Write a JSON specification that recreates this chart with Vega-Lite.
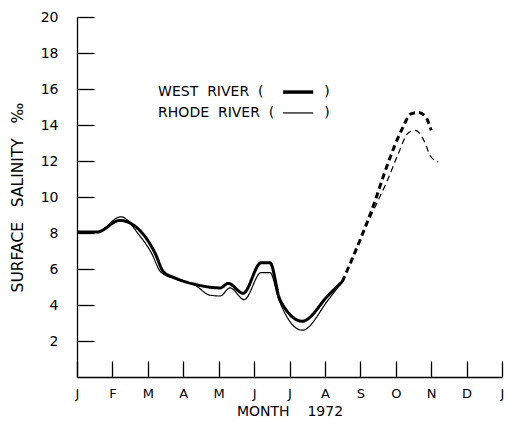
{
  "$schema": "https://vega.github.io/schema/vega-lite/v6.json",
  "autosize": {"type": "none"},
  "padding": {"left": 77, "top": 17, "right": 5, "bottom": 52},
  "width": 425,
  "height": 360,
  "background": "white",
  "config": {
    "view": {"stroke": null},
    "font": "DejaVu Sans",
    "axis": {"grid": false, "domainColor": "black", "tickColor": "black", "labelColor": "black", "titleColor": "black", "domainWidth": 1.3, "tickWidth": 1.3, "labelFont": "DejaVu Sans", "titleFont": "DejaVu Sans", "titleFontWeight": "normal", "labelOverlap": false}
  },
  "datasets": {
    "sal": [
      {"river": "West", "seg": "obs", "m": 0, "s": 8.05},
      {"river": "West", "seg": "obs", "m": 0.56, "s": 8.05},
      {"river": "West", "seg": "obs", "m": 1.21, "s": 8.7},
      {"river": "West", "seg": "obs", "m": 1.84, "s": 8.0},
      {"river": "West", "seg": "obs", "m": 2.2, "s": 6.9},
      {"river": "West", "seg": "obs", "m": 2.44, "s": 5.85},
      {"river": "West", "seg": "obs", "m": 2.77, "s": 5.5},
      {"river": "West", "seg": "obs", "m": 3.33, "s": 5.15},
      {"river": "West", "seg": "obs", "m": 4.04, "s": 4.95},
      {"river": "West", "seg": "obs", "m": 4.27, "s": 5.2},
      {"river": "West", "seg": "obs", "m": 4.69, "s": 4.65},
      {"river": "West", "seg": "obs", "m": 5.2, "s": 6.35},
      {"river": "West", "seg": "obs", "m": 5.45, "s": 6.35},
      {"river": "West", "seg": "obs", "m": 5.73, "s": 4.3},
      {"river": "West", "seg": "obs", "m": 6.36, "s": 3.1},
      {"river": "West", "seg": "obs", "m": 7.1, "s": 4.55},
      {"river": "West", "seg": "obs", "m": 7.49, "s": 5.3},
      {"river": "West", "seg": "est", "m": 7.49, "s": 5.3},
      {"river": "West", "seg": "est", "m": 7.99, "s": 7.6},
      {"river": "West", "seg": "est", "m": 8.42, "s": 9.8},
      {"river": "West", "seg": "est", "m": 8.64, "s": 11.1},
      {"river": "West", "seg": "est", "m": 9.21, "s": 13.9},
      {"river": "West", "seg": "est", "m": 9.41, "s": 14.6},
      {"river": "West", "seg": "est", "m": 9.63, "s": 14.7},
      {"river": "West", "seg": "est", "m": 9.83, "s": 14.5},
      {"river": "West", "seg": "est", "m": 10.0, "s": 13.7},
      {"river": "Rhode", "seg": "obs", "m": 0, "s": 8.05},
      {"river": "Rhode", "seg": "obs", "m": 0.56, "s": 8.05},
      {"river": "Rhode", "seg": "obs", "m": 1.24, "s": 8.9},
      {"river": "Rhode", "seg": "obs", "m": 1.75, "s": 7.9},
      {"river": "Rhode", "seg": "obs", "m": 2.1, "s": 6.9},
      {"river": "Rhode", "seg": "obs", "m": 2.36, "s": 5.85},
      {"river": "Rhode", "seg": "obs", "m": 2.77, "s": 5.45},
      {"river": "Rhode", "seg": "obs", "m": 3.33, "s": 5.1},
      {"river": "Rhode", "seg": "obs", "m": 3.75, "s": 4.55},
      {"river": "Rhode", "seg": "obs", "m": 4.04, "s": 4.5},
      {"river": "Rhode", "seg": "obs", "m": 4.32, "s": 4.95},
      {"river": "Rhode", "seg": "obs", "m": 4.72, "s": 4.3},
      {"river": "Rhode", "seg": "obs", "m": 5.2, "s": 5.8},
      {"river": "Rhode", "seg": "obs", "m": 5.45, "s": 5.8},
      {"river": "Rhode", "seg": "obs", "m": 5.7, "s": 4.3},
      {"river": "Rhode", "seg": "obs", "m": 6.36, "s": 2.6},
      {"river": "Rhode", "seg": "obs", "m": 7.1, "s": 4.3},
      {"river": "Rhode", "seg": "obs", "m": 7.49, "s": 5.3},
      {"river": "Rhode", "seg": "est", "m": 7.49, "s": 5.3},
      {"river": "Rhode", "seg": "est", "m": 7.94, "s": 7.4},
      {"river": "Rhode", "seg": "est", "m": 8.5, "s": 9.8},
      {"river": "Rhode", "seg": "est", "m": 8.76, "s": 10.9},
      {"river": "Rhode", "seg": "est", "m": 9.07, "s": 12.4},
      {"river": "Rhode", "seg": "est", "m": 9.35, "s": 13.55},
      {"river": "Rhode", "seg": "est", "m": 9.55, "s": 13.7},
      {"river": "Rhode", "seg": "est", "m": 9.83, "s": 13.0},
      {"river": "Rhode", "seg": "est", "m": 9.97, "s": 12.3},
      {"river": "Rhode", "seg": "est", "m": 10.2, "s": 11.95}
    ],
    "one": [{}]
  },
  "layer": [
    {
      "data": {"name": "sal"},
      "transform": [{"filter": "datum.river == 'Rhode'"}],
      "mark": {"type": "line", "interpolate": "monotone", "color": "black", "strokeWidth": 1.2},
      "encoding": {
        "x": {"field": "m", "type": "quantitative", "scale": {"domain": [0, 12], "nice": false},
          "axis": {"values": [0,1,2,3,4,5,6,7,8,9,10,11,12], "tickCount": 30, "labelOverlap": false, "labelExpr": "['J','F','M','A','M','J','J','A','S','O','N','D','J'][datum.value]", "tickSize": -16, "labelPadding": 26, "labelFontSize": 13, "labelFlush": false, "title": "MONTH\u00a0\u00a0\u00a0\u00a01972", "titleFontSize": 14, "titlePadding": 4}},
        "y": {"field": "s", "type": "quantitative", "scale": {"domain": [0, 20], "nice": false},
          "axis": {"values": [2,4,6,8,10,12,14,16,18,20], "tickCount": 30, "format": "d", "labelOverlap": false, "tickSize": -17, "labelPadding": 36, "labelFontSize": 14, "labelFlush": false, "title": "SURFACE\u00a0\u00a0\u00a0SALINITY\u00a0\u00a0\u00a0‰", "titleFontSize": 15.5, "titlePadding": 15}},
        "strokeDash": {"field": "seg", "type": "nominal", "scale": {"domain": ["obs", "est"], "range": [[1, 0], [6, 4]]}, "legend": null}
      }
    },
    {
      "data": {"name": "sal"},
      "transform": [{"filter": "datum.river == 'West'"}],
      "mark": {"type": "line", "interpolate": "monotone", "color": "black", "strokeWidth": 3},
      "encoding": {
        "x": {"field": "m", "type": "quantitative"},
        "y": {"field": "s", "type": "quantitative"},
        "strokeDash": {"field": "seg", "type": "nominal", "scale": {"domain": ["obs", "est"], "range": [[1, 0], [9, 4]]}, "legend": null}
      }
    },
    {
      "data": {"name": "one"},
      "mark": {"type": "text", "align": "left", "baseline": "middle", "fontSize": 14, "color": "black"},
      "encoding": {"x": {"datum": 2.29}, "y": {"datum": 15.83}, "text": {"value": "WEST\u00a0\u00a0RIVER\u00a0\u00a0("}}
    },
    {
      "data": {"name": "one"},
      "mark": {"type": "text", "align": "left", "baseline": "middle", "fontSize": 14, "color": "black"},
      "encoding": {"x": {"datum": 2.29}, "y": {"datum": 14.67}, "text": {"value": "RHODE\u00a0\u00a0RIVER\u00a0\u00a0("}}
    },
    {
      "data": {"name": "one"},
      "mark": {"type": "text", "align": "center", "baseline": "middle", "fontSize": 14, "color": "black"},
      "encoding": {"x": {"datum": 7.06}, "y": {"datum": 15.83}, "text": {"value": ")"}}
    },
    {
      "data": {"name": "one"},
      "mark": {"type": "text", "align": "center", "baseline": "middle", "fontSize": 14, "color": "black"},
      "encoding": {"x": {"datum": 7.06}, "y": {"datum": 14.67}, "text": {"value": ")"}}
    },
    {
      "data": {"name": "one"},
      "mark": {"type": "rule", "color": "black", "strokeWidth": 3.5},
      "encoding": {"x": {"datum": 5.82}, "x2": {"datum": 6.67}, "y": {"datum": 15.83}}
    },
    {
      "data": {"name": "one"},
      "mark": {"type": "rule", "color": "black", "strokeWidth": 1.2},
      "encoding": {"x": {"datum": 5.82}, "x2": {"datum": 6.67}, "y": {"datum": 14.67}}
    }
  ]
}
